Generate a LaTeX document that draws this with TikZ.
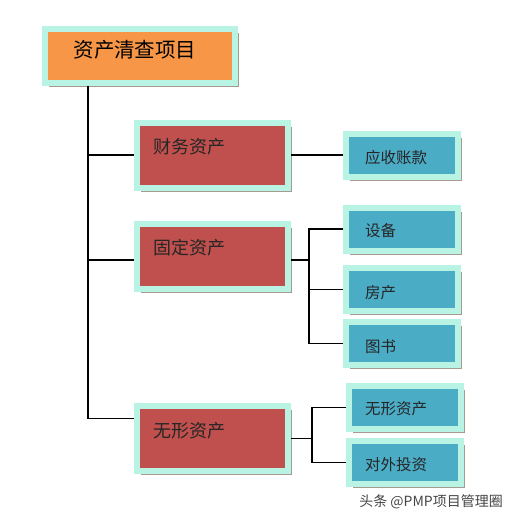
\documentclass[tikz,border=0pt]{standalone}
\usepackage{fontspec}
\newfontfamily\cjk{Noto Sans CJK SC}
\usetikzlibrary{shadows,calc}
\definecolor{mint}{RGB}{185,243,228}
\definecolor{orangebox}{RGB}{247,150,70}
\definecolor{redbox}{RGB}{192,80,77}
\definecolor{bluebox}{RGB}{75,172,198}
\definecolor{shadowc}{RGB}{165,155,145}
\definecolor{wm}{RGB}{70,70,70}
\tikzset{
  box/.style={draw=mint, line width=6pt, inner sep=0pt,
    drop shadow={shadow xshift=4pt, shadow yshift=-4pt, fill=shadowc, opacity=1}},
  topbox/.style={box, fill=orangebox, minimum width=190pt, minimum height=54pt},
  redb/.style={box, fill=redbox, minimum width=151pt, minimum height=65pt},
  blueb/.style={box, fill=bluebox, minimum width=112pt, minimum height=43pt},
  toptxt/.style={font=\cjk\fontsize{20.5}{22}\selectfont, inner sep=0pt},
  redtxt/.style={font=\cjk\fontsize{18}{20}\selectfont, inner sep=0pt, anchor=west, text=black!85},
  bluetxt/.style={font=\cjk\fontsize{15.5}{17}\selectfont, inner sep=0pt, anchor=west, text=black!85},
  conn/.style={draw=black, line width=1.8pt},
}
\begin{document}
\begin{tikzpicture}[x=1pt,y=-1pt]
\useasboundingbox[fill=white] (0,0) rectangle (516,520);
% boxes
\node[topbox] (top) at (140,56) {};
\node[toptxt] (toptext) at (135,50) {资产清查项目};

\node[redb] (b1) at (212.5,155) {};
\node[redb] (b2) at (212.5,256) {};
\node[redb] (b3) at (212.5,438.5) {};
\node[redtxt] (t1) at ([shift={(19,27)}]b1.north west) {财务资产};
\node[redtxt] (t2) at ([shift={(19,27)}]b2.north west) {固定资产};
\node[redtxt] (t3) at ([shift={(19,28)}]b3.north west) {无形资产};

\node[blueb] (c1) at (402,155.5) {};
\node[blueb] (c2) at (402,229) {};
\node[blueb] (c3) at (402,289.5) {};
\node[blueb] (c4) at (402,343.5) {};
\node[blueb] (c5) at (405,407.5) {};
\node[blueb] (c6) at (405,462.5) {};
\node[bluetxt] (u1) at ([shift={(22,2)}]c1.west) {应收账款};
\node[bluetxt] (u2) at ([shift={(22,2)}]c2.west) {设备};
\node[bluetxt] (u3) at ([shift={(22,3)}]c3.west) {房产};
\node[bluetxt] (u4) at ([shift={(22,3)}]c4.west) {图书};
\node[bluetxt] (u5) at ([shift={(19,1)}]c5.west) {无形资产};
\node[bluetxt] (u6) at ([shift={(19,2)}]c6.west) {对外投资};

% trunk
\coordinate (tx) at (88,0);
\coordinate (j1) at (b1.west);
\coordinate (j2) at ([yshift=-4pt]b2.west);
\coordinate (j3) at ([yshift=20pt]b3.west);
\draw[conn] (tx |- top.south) -- (tx |- j3) -- (j3);
\draw[conn] (tx |- j1) -- (j1);
\draw[conn] (tx |- j2) -- (j2);

% right side
\draw[conn] (b1.east) -- (c1.west |- b1.east);
\coordinate (bx2) at (309,0);
\draw[conn] (j2 -| b2.east) -- (bx2 |- j2);
\draw[conn] (c2.west) -- (bx2 |- c2.west) -- (bx2 |- c4.west) -- (c4.west);
\draw[conn] (bx2 |- c3.west) -- (c3.west);
\coordinate (bx3) at (312,0);
\draw[conn] (b3.east) -- (bx3 |- b3.east);
\draw[conn] (c5.west) -- (bx3 |- c5.west) -- (bx3 |- c6.west) -- (c6.west);

% watermark
\node[font=\cjk\fontsize{14}{16}\selectfont, text=wm, anchor=east, inner sep=0pt] (wmk) at (503,502) {头条 @PMP项目管理圈};
\end{tikzpicture}
\end{document}
